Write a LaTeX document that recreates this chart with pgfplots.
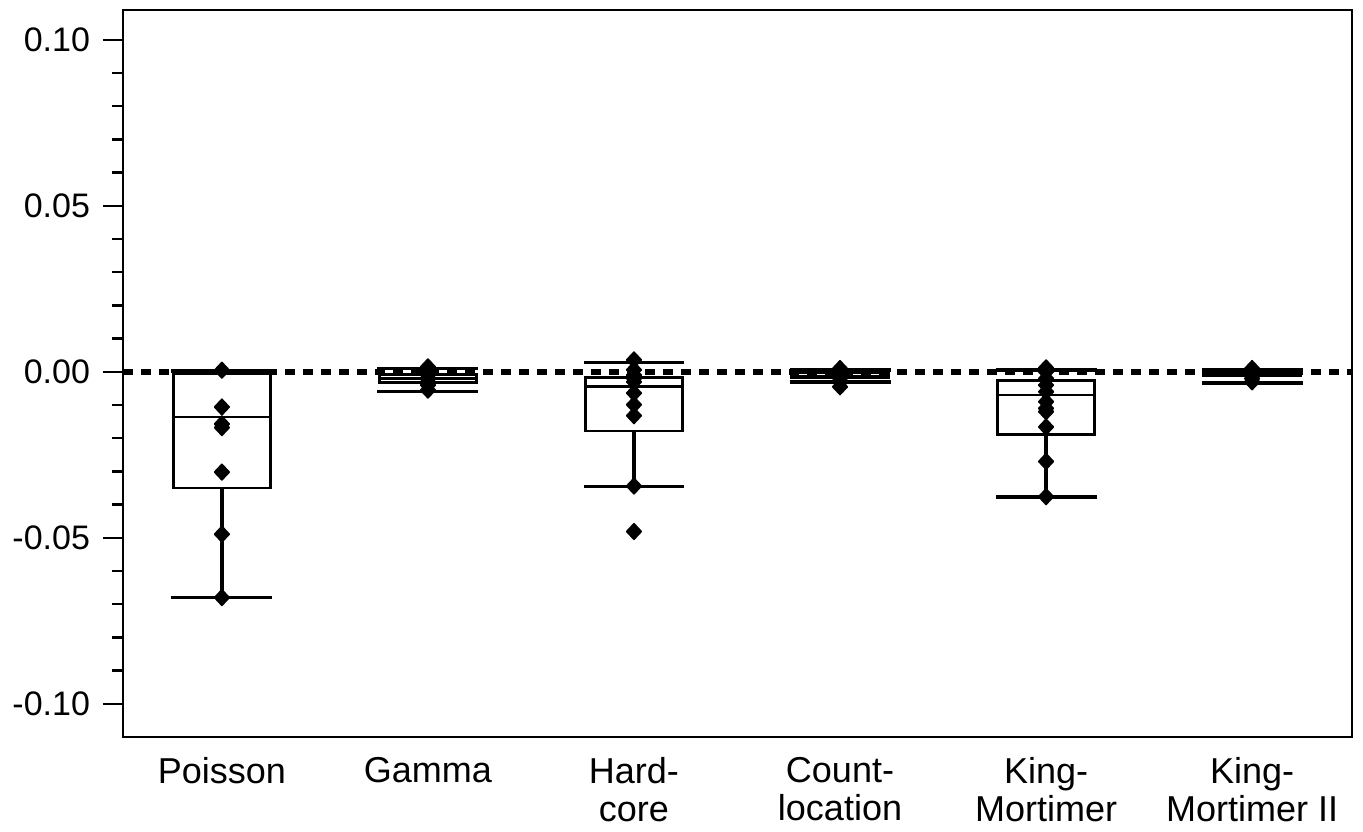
\documentclass[border=0pt]{standalone}
\usepackage{fontspec}
\setmainfont{Liberation Sans}
\usepackage{pgfplots}
\pgfplotsset{compat=1.18}
\usepgfplotslibrary{statistics}
\usepackage{pgfplotstable}

\pgfplotstableread{
x y
0 0.0005
0 -0.0106
0 -0.0157
0 -0.0168
0 -0.0302
0 -0.0489
0 -0.0680
1 0.0015
1 0.0008
1 0.0
1 -0.001
1 -0.002
1 -0.003
1 -0.004
1 -0.0055
2 0.0036
2 0.0006
2 -0.001
2 -0.002
2 -0.003
2 -0.0064
2 -0.0099
2 -0.0132
2 -0.0344
2 -0.0481
3 0.001
3 0.0
3 -0.001
3 -0.002
3 -0.003
3 -0.0045
4 0.0012
4 0.0
4 -0.002
4 -0.004
4 -0.006
4 -0.009
4 -0.011
4 -0.012
4 -0.0166
4 -0.0270
4 -0.0376
5 0.001
5 0.0
5 -0.001
5 -0.002
5 -0.003
}\points

\begin{document}
\begin{tikzpicture}
\path[use as bounding box] (-61.5pt,-47pt) rectangle (620pt,368.5pt);
\begin{axis}[
  at={(0pt,0pt)}, anchor=south west,
  scale only axis, width=614.5pt, height=363.5pt,
  xmin=-0.48, xmax=5.485, ymin=-0.11, ymax=0.109,
  axis line style={line width=1.3pt},
  tick align=outside,
  ytick pos=left,
  xtick pos=bottom,
  xtick={0,1,2,3,4,5},
  xticklabels={Poisson,Gamma,Hard-\\core,Count-\\location,King-\\Mortimer,King-\\Mortimer II},
  xtick style={draw=none},
  xticklabel style={align=center, font=\fontsize{18}{19}\selectfont, inner sep=0pt, anchor=north},
  ytick={-0.1,-0.05,0,0.05,0.1},
  yticklabels={-0.10,-0.05,0.00,0.05,0.10},
  yticklabel style={font=\fontsize{17}{18}\selectfont, xshift=-3pt},
  minor ytick={-0.09,-0.08,-0.07,-0.06,-0.04,-0.03,-0.02,-0.01,0.01,0.02,0.03,0.04,0.06,0.07,0.08,0.09},
  major tick length=10pt,
  minor tick length=5.5pt,
  every tick/.style={black, line width=1.2pt},
  boxplot/draw direction=y,
  boxplot/box extend=0.47,
  boxplot/whisker extend=0.49,
  boxplot/every median/.style={line width=1.1pt},
  boxplot/every whisker/.style={line width=1.7pt},
  boxplot/every box/.style={line width=1.4pt},
  clip=true,
]
\addplot[draw=black, line width=1.4pt, solid, boxplot prepared={draw position=0, lower whisker=-0.068, lower quartile=-0.035, median=-0.0136, upper quartile=-0.0004, upper whisker=0.0003}] coordinates {};
\addplot[draw=black, line width=1.4pt, solid, boxplot prepared={draw position=1, lower whisker=-0.0059, lower quartile=-0.0031, median=-0.0020, upper quartile=-0.0009, upper whisker=0.0010}] coordinates {};
\addplot[draw=black, line width=1.4pt, solid, boxplot prepared={draw position=2, lower whisker=-0.0345, lower quartile=-0.0178, median=-0.0044, upper quartile=-0.0017, upper whisker=0.0028}] coordinates {};
\addplot[draw=black, line width=1.4pt, solid, boxplot prepared={draw position=3, lower whisker=-0.0030, lower quartile=-0.0017, median=-0.0012, upper quartile=-0.0003, upper whisker=0.0005}] coordinates {};
\addplot[draw=black, line width=1.4pt, solid, boxplot prepared={draw position=4, lower whisker=-0.0377, lower quartile=-0.0188, median=-0.0069, upper quartile=-0.0026, upper whisker=0.0006}] coordinates {};
\addplot[draw=black, line width=1.4pt, solid, boxplot prepared={draw position=5, lower whisker=-0.0034, lower quartile=-0.0010, median=-0.0004, upper quartile=0.0000, upper whisker=0.0006}] coordinates {};
\addplot[black, line width=3pt, dash pattern=on 5pt off 4pt, mark=none] coordinates {(-0.48,0) (5.485,0)};
\addplot[only marks, mark=diamond*, mark size=3.9pt, mark options={fill=black, draw=black, solid, line width=0.8pt, line join=round, xscale=1.25}] table[x=x, y=y] {\points};
\end{axis}
\end{tikzpicture}
\end{document}
